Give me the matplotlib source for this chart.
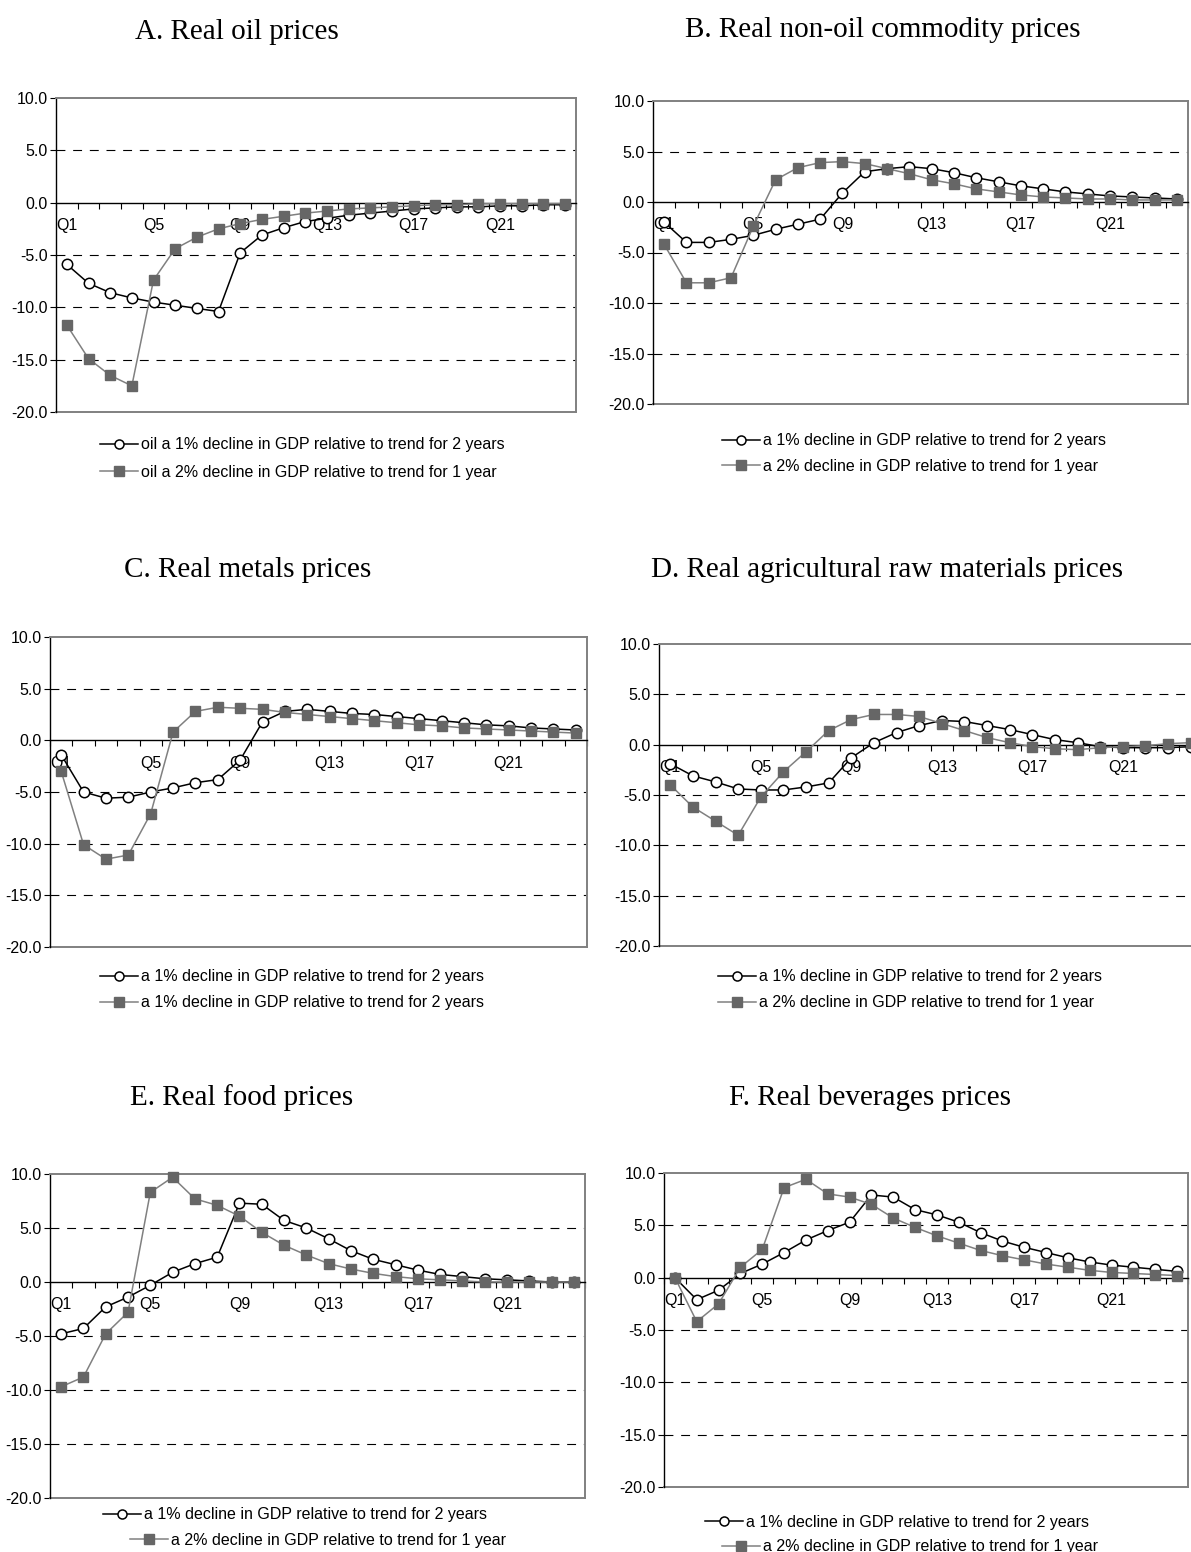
import matplotlib
matplotlib.use("Agg")
import matplotlib.pyplot as plt
from matplotlib.lines import Line2D

# ---------- data (percent deviation, Q1..Q24) ----------
quarters = [f"Q{i}" for i in range(1, 25)]
shown_quarters = ["Q1", "Q5", "Q9", "Q13", "Q17", "Q21"]
y_ticks = [10.0, 5.0, 0.0, -5.0, -10.0, -15.0, -20.0]

oil_2y = [-5.9, -7.7, -8.6, -9.1, -9.5, -9.8, -10.1, -10.4, -4.8, -3.1, -2.4, -1.8,
          -1.5, -1.2, -1.0, -0.8, -0.6, -0.5, -0.4, -0.4, -0.3, -0.3, -0.2, -0.2]
oil_1y = [-11.7, -14.9, -16.5, -17.5, -7.4, -4.4, -3.3, -2.5, -2.0, -1.6, -1.3, -1.0,
          -0.8, -0.6, -0.5, -0.4, -0.3, -0.2, -0.2, -0.1, -0.1, -0.1, -0.1, -0.1]

nonoil_2y = [-2.0, -4.0, -4.0, -3.7, -3.3, -2.7, -2.2, -1.7, 0.9, 3.0, 3.3, 3.5,
             3.3, 2.9, 2.4, 2.0, 1.6, 1.3, 1.0, 0.8, 0.6, 0.5, 0.4, 0.3]
nonoil_1y = [-4.2, -8.0, -8.0, -7.5, -2.4, 2.2, 3.4, 3.9, 4.0, 3.8, 3.3, 2.8,
             2.2, 1.8, 1.3, 1.0, 0.7, 0.5, 0.4, 0.3, 0.3, 0.2, 0.2, 0.2]

metals_2y = [-1.4, -5.0, -5.6, -5.5, -5.0, -4.6, -4.1, -3.8, -1.9, 1.8, 2.8, 3.0,
             2.8, 2.6, 2.5, 2.3, 2.1, 1.9, 1.7, 1.5, 1.4, 1.2, 1.1, 1.0]
metals_1y = [-3.0, -10.1, -11.5, -11.1, -7.1, 0.8, 2.8, 3.2, 3.1, 3.0, 2.7, 2.5,
             2.3, 2.1, 1.9, 1.7, 1.5, 1.4, 1.2, 1.1, 1.0, 0.9, 0.8, 0.7]

agri_2y = [-1.9, -3.1, -3.7, -4.4, -4.5, -4.5, -4.2, -3.8, -1.3, 0.2, 1.2, 1.9,
           2.4, 2.3, 1.9, 1.5, 1.0, 0.5, 0.2, -0.2, -0.3, -0.3, -0.3, -0.2]
agri_1y = [-4.0, -6.2, -7.6, -9.0, -5.2, -2.7, -0.7, 1.4, 2.5, 3.0, 3.0, 2.8,
           2.1, 1.4, 0.7, 0.2, -0.2, -0.4, -0.5, -0.3, -0.2, -0.1, 0.1, 0.2]

food_2y = [-4.8, -4.3, -2.3, -1.4, -0.3, 0.9, 1.7, 2.3, 7.3, 7.2, 5.7, 5.0,
           4.0, 2.9, 2.1, 1.6, 1.1, 0.7, 0.5, 0.3, 0.2, 0.1, 0.0, 0.0]
food_1y = [-9.7, -8.8, -4.8, -2.8, 8.3, 9.7, 7.7, 7.1, 6.1, 4.6, 3.4, 2.5,
           1.7, 1.2, 0.8, 0.5, 0.3, 0.2, 0.1, 0.0, 0.0, 0.0, 0.0, 0.0]

bev_2y = [0.0, -2.1, -1.2, 0.4, 1.3, 2.4, 3.6, 4.5, 5.3, 7.9, 7.7, 6.5,
          6.0, 5.3, 4.3, 3.5, 2.9, 2.4, 1.9, 1.5, 1.2, 1.0, 0.8, 0.6]
bev_1y = [0.0, -4.2, -2.5, 1.0, 2.7, 8.6, 9.4, 8.0, 7.7, 7.0, 5.7, 4.8,
          4.0, 3.3, 2.6, 2.1, 1.7, 1.3, 1.0, 0.7, 0.5, 0.4, 0.3, 0.2]

titles = ["A. Real oil prices", "B. Real non-oil commodity prices",
          "C. Real metals prices", "D. Real agricultural raw materials prices",
          "E. Real food prices", "F. Real beverages prices"]

lab_2y = "a 1% decline in GDP relative to trend for 2 years"
lab_1y = "a 2% decline in GDP relative to trend for 1 year"
legend_labels = [
    ["oil " + lab_2y, "oil " + lab_1y],
    [lab_2y, lab_1y],
    [lab_2y, lab_2y],
    [lab_2y, lab_1y],
    [lab_2y, lab_1y],
    [lab_2y, lab_1y],
]
series = [(oil_2y, oil_1y), (nonoil_2y, nonoil_1y), (metals_2y, metals_1y),
          (agri_2y, agri_1y), (food_2y, food_1y), (bev_2y, bev_1y)]

# ---------- layout in pixels ----------
W, H = 1191, 1552
# plot boxes: left, top, right, bottom
boxes = [(56, 98, 576, 412), (653, 101, 1188, 404),
         (50, 637, 587, 947), (659, 644, 1202, 946),
         (50, 1174, 585, 1498), (664, 1173, 1188, 1487)]
title_pos = [(237, 32), (883, 30), (248, 570), (887, 570), (242, 1098), (870, 1098)]
# left edge of legend handle, vertical centre, per entry
legend_pos = [[(100, 445), (100, 472)], [(722, 441), (722, 466)],
              [(100, 977), (100, 1003)], [(718, 977), (718, 1003)],
              [(103, 1515), (130, 1540)], [(705, 1522), (722, 1547)]]

plt.rcParams["font.family"] = ["Liberation Sans", "DejaVu Sans"]
plt.rcParams["axes.unicode_minus"] = False

BLACK = "black"
FRAME = "#808080"
LINE2 = "#808080"
MARK2 = "#666666"
FS = 11.5

fig = plt.figure(figsize=(W / 100, H / 100), dpi=100)


def draw_panel(box, s1, s2):
    left, top, right, bottom = box
    ax = fig.add_axes([left / W, 1 - bottom / H, (right - left) / W, (bottom - top) / H])
    x = list(range(1, len(quarters) + 1))
    ax.set_xlim(0.5, len(quarters) + 0.5)
    ax.set_ylim(-20, 10)

    for g in (5, -5, -10, -15):
        ax.axhline(g, color=BLACK, lw=0.8, ls=(0, (8, 7)), zorder=1)

    ax.plot(x, s1, color=BLACK, lw=1.1, marker="o", ms=7.5, mfc="white",
            mec=BLACK, mew=1.1, zorder=3, clip_on=False)
    ax.plot(x, s2, color=LINE2, lw=1.1, marker="s", ms=7.5, mfc=MARK2,
            mec=MARK2, zorder=4, clip_on=False)

    # frame: black value axis, grey border, category axis at zero
    ax.spines["left"].set_color(BLACK)
    ax.spines["left"].set_linewidth(1.0)
    for s in ("top", "right"):
        ax.spines[s].set_color(FRAME)
        ax.spines[s].set_linewidth(1.4)
    ax.spines["bottom"].set_position(("data", 0))
    ax.spines["bottom"].set_color(BLACK)
    ax.spines["bottom"].set_linewidth(1.0)
    ax.plot([0, 1], [0, 0], transform=ax.transAxes, color=FRAME, lw=1.4, clip_on=False)

    ax.set_yticks(y_ticks)
    ax.set_yticklabels([f"{v:.1f}" for v in y_ticks])
    ax.tick_params(axis="y", direction="out", length=4, width=0.8, pad=2, labelsize=FS)

    pos = [quarters.index(q) + 1 for q in shown_quarters]
    ax.set_xticks(pos)
    ax.set_xticklabels(shown_quarters)
    ax.set_xticks([i + 0.5 for i in range(len(quarters) + 1)], minor=True)
    ax.tick_params(axis="x", which="major", length=0, pad=11, labelsize=FS)
    ax.tick_params(axis="x", which="minor", direction="out", length=4, width=0.8)
    return ax


for i in range(6):
    s1, s2 = series[i]
    draw_panel(boxes[i], s1, s2)
    cx, cy = title_pos[i]
    fig.text(cx / W, 1 - cy / H, titles[i], ha="center", va="center",
             family=["Liberation Serif", "DejaVu Serif"], fontsize=21)

    h1 = Line2D([], [], color=BLACK, lw=1.1, marker="o", ms=6.5, mfc="white", mec=BLACK, mew=1.1)
    h2 = Line2D([], [], color=LINE2, lw=1.1, marker="s", ms=6.5, mfc=MARK2, mec=MARK2)
    for h, lab, (lx, ly) in zip((h1, h2), legend_labels[i], legend_pos[i]):
        fig.legend(handles=[h], labels=[lab], loc="center left",
                   bbox_to_anchor=(lx / W, 1 - ly / H), frameon=False,
                   borderpad=0, borderaxespad=0, handlelength=2.4,
                   handletextpad=0.15, fontsize=FS)

fig.savefig("out.png", dpi=100, facecolor="white")
